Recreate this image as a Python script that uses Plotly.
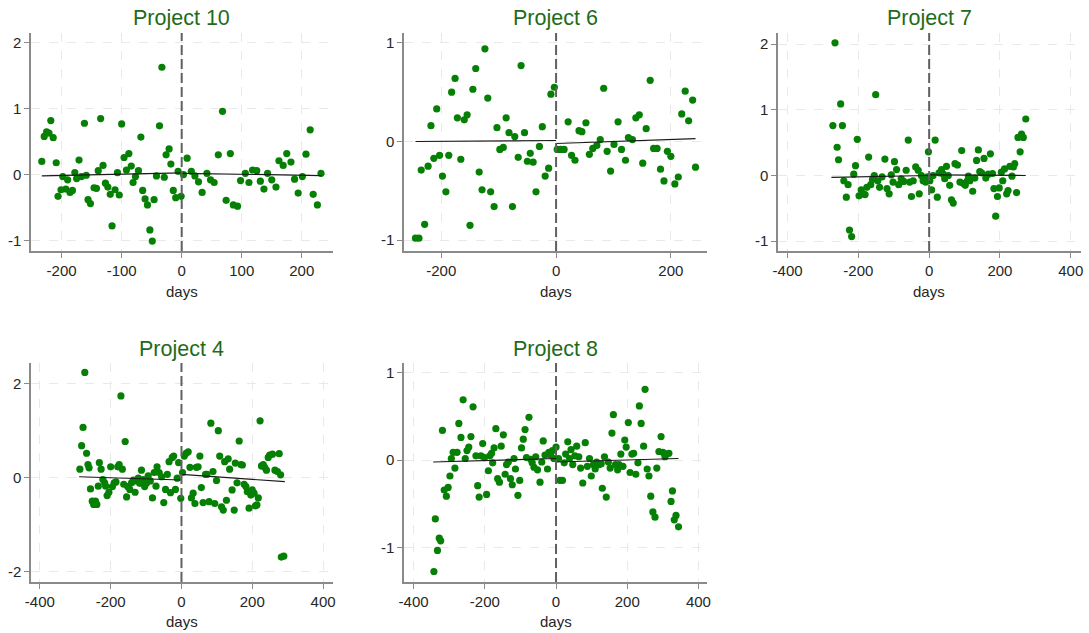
import plotly.graph_objects as go

# ---------------- data ----------------
projects = ["Project 10", "Project 6", "Project 7", "Project 4", "Project 8"]

p10_days = [-233, -229, -225, -221, -218, -214, -209, -206, -201, -198, -193, -190, -186, -182, -178, -175, -171, -167,
            -162, -159, -156, -152, -146, -142, -139, -135, -131, -127, -123, -119, -116, -111, -107, -104, -100, -96,
            -92, -88, -84, -81, -77, -72, -68, -65, -61, -57, -53, -49, -46, -42, -37, -33, -29, -26, -21, -18, -14,
            -10, -6, -1, 3, 9, 16, 22, 28, 34, 42, 48, 54, 61, 68, 74, 81, 86, 93, 98, 106, 112, 118, 125, 131, 137,
            143, 150, 157, 162, 169, 175, 182, 188, 194, 201, 207, 214, 219, 226, 232]
p10_vals = [0.20, 0.58, 0.65, 0.63, 0.82, 0.56, 0.18, -0.33, -0.23, -0.03, -0.22, -0.08, -0.27, -0.24, 0.03, -0.06, 0.22,
            -0.03, 0.78, -0.01, -0.38, -0.44, -0.20, -0.21, 0.06, 0.85, 0.14, -0.13, -0.19, -0.30, -0.78, -0.23, 0.03,
            -0.31, 0.77, 0.26, 0.07, 0.32, 0.13, -0.12, -0.03, 0.06, 0.57, -0.24, -0.37, -0.46, -0.84, -1.01, -0.38,
            -0.02, 0.74, 1.63, -0.04, 0.30, 0.39, 0.16, -0.24, -0.35, 0.05, -0.33, 0.00, 0.25, 0.05, -0.02, -0.11,
            -0.27, 0.02, -0.08, -0.12, 0.30, 0.96, -0.39, 0.32, -0.46, -0.48, -0.09, 0.02, -0.12, 0.07, 0.06, -0.10,
            -0.22, 0.02, -0.08, -0.19, 0.21, 0.14, 0.32, 0.19, -0.07, -0.28, -0.03, 0.31, 0.68, -0.30, -0.46, 0.02]

p6_days = [-245, -239, -235, -229, -223, -218, -213, -208, -203, -198, -192, -187, -182, -176, -172, -166, -160, -155,
           -150, -145, -140, -134, -129, -124, -119, -114, -108, -103, -98, -92, -87, -82, -76, -72, -66, -61, -55, -50,
           -45, -40, -35, -29, -24, -19, -13, -9, -3, 2, 8, 14, 21, 27, 33, 40, 45, 52, 58, 64, 71, 77, 83, 89, 95, 101,
           108, 114, 121, 126, 133, 139, 145, 151, 157, 164, 170, 176, 182, 188, 194, 200, 207, 213, 219, 225, 231,
           238, 243]
p6_vals = [-0.98, -0.98, -0.29, -0.84, -0.25, 0.16, -0.17, 0.33, -0.14, -0.35, -0.51, -0.14, 0.50, 0.64, 0.24, -0.18,
           0.22, 0.27, -0.85, 0.53, 0.74, -0.31, -0.49, 0.94, 0.44, -0.51, -0.66, 0.14, -0.08, -0.06, 0.24, 0.09, -0.66,
           0.05, -0.16, 0.77, 0.09, -0.20, -0.12, -0.21, -0.51, -0.05, 0.15, -0.35, -0.27, 0.48, 0.55, -0.08, -0.08,
           -0.08, 0.20, -0.14, -0.19, 0.11, 0.10, 0.19, -0.13, -0.07, -0.04, 0.02, 0.54, -0.10, -0.30, -0.03, 0.20,
           -0.08, -0.19, 0.04, 0.02, 0.24, 0.27, -0.22, 0.13, 0.62, -0.07, -0.07, -0.28, -0.40, -0.10, -0.15, -0.43,
           -0.36, 0.28, 0.51, 0.21, 0.42, -0.26]

p7_days = [-272, -266, -260, -256, -250, -245, -241, -234, -229, -225, -219, -213, -208, -203, -198, -192, -187, -181,
           -176, -171, -165, -160, -155, -151, -145, -140, -133, -125, -119, -113, -107, -102, -98, -92, -86, -79, -72,
           -65, -59, -55, -50, -45, -38, -31, -28, -22, -17, -10, -5, -2, 2, 7, 11, 17, 23, 28, 35, 40, 44, 49, 54, 58,
           63, 68, 73, 80, 87, 92, 96, 102, 108, 111, 115, 123, 129, 134, 139, 143, 148, 155, 160, 167, 173, 179, 183,
           188, 193, 198, 204, 208, 213, 219, 223, 228, 234, 238, 242, 247, 251, 257, 261, 266, 273]
p7_vals = [0.76, 2.02, 0.43, 0.24, 1.09, 0.76, -0.08, -0.33, -0.14, -0.83, -0.93, 0.02, 0.15, 0.55, -0.31, -0.22, -0.28,
           -0.29, -0.18, 0.28, -0.14, -0.06, 0.00, 1.23, -0.08, -0.18, -0.02, 0.25, -0.20, -0.28, 0.01, -0.10, 0.21,
           0.09, -0.14, -0.05, -0.09, 0.08, 0.54, -0.10, -0.32, -0.08, 0.13, 0.08, -0.28, 0.00, -0.08, -0.10, -0.02,
           0.36, -0.08, -0.22, 0.00, 0.54, -0.33, 0.04, 0.09, 0.02, -0.05, 0.14, 0.00, -0.15, -0.37, -0.42, 0.18, 0.16,
           -0.10, 0.38, -0.12, -0.15, -0.08, -0.01, -0.08, -0.24, -0.04, 0.23, 0.39, 0.06, 0.04, 0.26, -0.04, 0.02,
           0.33, 0.03, -0.20, -0.62, -0.32, -0.19, 0.05, -0.08, 0.10, -0.28, -0.23, 0.14, -0.01, 0.13, 0.18, -0.26,
           0.58, 0.36, 0.63, 0.58, 0.86]

p4_days = [-287, -282, -278, -273, -268, -264, -261, -257, -252, -248, -243, -239, -235, -232, -227, -222, -217, -214,
           -210, -205, -200, -195, -190, -185, -180, -176, -171, -167, -163, -159, -155, -152, -146, -141, -136, -131,
           -127, -122, -118, -113, -108, -104, -99, -94, -88, -82, -77, -72, -69, -63, -56, -50, -45, -40, -35, -31,
           -26, -22, -17, -12, -8, -2, 3, 8, 13, 19, 24, 28, 33, 38, 42, 47, 52, 56, 61, 68, 72, 78, 83, 89, 94, 99,
           104, 108, 113, 118, 122, 127, 132, 136, 143, 149, 152, 157, 163, 168, 172, 177, 182, 186, 191, 196, 200,
           205, 209, 213, 217, 222, 226, 231, 235, 240, 245, 249, 257, 264, 271, 276, 280, 282, 289]
p4_vals = [0.18, 0.68, 1.07, 2.24, 0.52, 0.28, 0.21, -0.24, -0.50, -0.57, -0.50, -0.57, -0.18, 0.32, 0.18, -0.04, -0.11,
           -0.18, -0.38, -0.31, 0.23, -0.19, -0.11, -0.09, 0.23, 0.28, 1.74, 0.18, -0.14, 0.77, -0.41, -0.19, -0.25,
           -0.11, -0.05, -0.31, -0.07, -0.01, -0.12, 0.16, -0.04, -0.19, -0.12, 0.04, -0.07, -0.43, 0.11, -0.18, 0.23,
           0.11, 0.02, -0.53, -0.25, 0.07, 0.34, -0.32, 0.43, 0.46, -0.25, -0.01, 0.32, -0.44, 0.11, 0.46, 0.52, 0.55,
           0.22, -0.43, -0.33, -0.55, 0.22, 0.23, 0.46, -0.21, -0.53, 0.07, 0.07, -0.51, 1.16, 0.13, -0.55, -0.06, 1.00,
           0.46, -0.62, -0.69, 0.34, -0.48, 0.40, 0.18, -0.26, -0.69, 0.31, -0.11, 0.78, 0.28, 0.27, -0.14, -0.19,
           -0.30, -0.65, -0.37, -0.26, -0.33, -0.60, -0.58, -0.43, 1.21, 0.25, 0.28, 0.22, 0.16, 0.43, 0.48, 0.50, 0.16,
           0.13, 0.51, 0.06, -1.69, -1.67]

p8_days = [-343, -339, -333, -328, -324, -319, -314, -308, -303, -298, -294, -289, -284, -278, -273, -267, -261, -255,
           -250, -245, -239, -233, -225, -220, -216, -211, -206, -201, -195, -190, -186, -181, -178, -174, -169, -164,
           -159, -154, -148, -143, -139, -134, -128, -123, -118, -114, -107, -102, -97, -92, -87, -83, -76, -71, -67,
           -62, -57, -52, -45, -40, -36, -31, -24, -20, -15, -10, -6, 0, 7, 11, 18, 23, 27, 33, 38, 42, 47, 53, 58, 64,
           69, 75, 82, 88, 94, 99, 105, 110, 114, 121, 127, 130, 136, 141, 147, 152, 157, 161, 167, 173, 177, 182, 188,
           193, 197, 203, 208, 213, 218, 224, 230, 234, 239, 246, 250, 256, 261, 266, 272, 278, 283, 289, 295, 300,
           306, 311, 317, 323, 327, 332, 337, 344]
p8_vals = [-1.27, -0.67, -1.03, -0.89, -0.92, 0.34, -0.34, -0.41, -0.31, -0.18, 0.02, 0.09, -0.09, 0.09, 0.42, 0.26,
           0.69, 0.02, 0.11, 0.15, 0.27, 0.61, 0.05, -0.29, -0.42, 0.05, 0.19, 0.03, -0.39, -0.12, 0.05, 0.08, -0.03,
           0.14, 0.36, -0.21, -0.25, 0.16, 0.29, -0.16, -0.05, -0.02, -0.21, -0.28, 0.02, -0.10, -0.40, -0.23, 0.14,
           0.24, 0.35, 0.03, 0.49, 0.01, -0.03, -0.08, 0.04, -0.11, -0.25, -0.02, 0.22, 0.06, -0.10, 0.09, 0.06, 0.11,
           0.02, 0.15, 0.02, -0.23, -0.23, -0.03, 0.07, 0.21, 0.02, 0.12, -0.05, 0.05, 0.16, 0.04, -0.09, -0.26, 0.20,
           -0.07, 0.02, -0.18, -0.05, -0.10, -0.02, -0.05, -0.04, -0.32, 0.04, -0.42, -0.02, -0.09, 0.31, 0.52, -0.05,
           -0.11, -0.05, 0.07, -0.07, 0.23, 0.15, 0.43, -0.14, 0.07, 0.08, -0.16, -0.03, 0.62, 0.42, 0.16, 0.81, -0.10,
           -0.18, -0.41, -0.59, -0.65, -0.09, 0.10, 0.27, 0.09, 0.04, 0.07, 0.08, -0.47, -0.35, -0.68, -0.63, -0.76]

# fitted line segments (left of cutoff, right of cutoff)
fit_left_x = [[-233, 0], [-245, 0], [-276, 0], [-289, 0], [-345, 0]]
fit_left_y = [[-0.02, 0.025], [0.00, 0.01], [-0.03, 0.00], [0.02, -0.05], [-0.02, 0.02]]
fit_right_x = [[0, 233], [0, 243], [0, 273], [0, 292], [0, 344]]
fit_right_y = [[0.02, -0.015], [-0.02, 0.03], [0.01, 0.00], [0.07, -0.085], [-0.02, 0.02]]

x_ranges = [[-251, 252], [-265, 263], [-427, 429], [-425, 428], [-427, 424]]
y_ranges = [[-1.16, 2.15], [-1.11, 1.10], [-1.15, 2.17], [-2.22, 2.44], [-1.39, 1.11]]
x_ticks = [[-200, -100, 0, 100, 200], [-200, 0, 200], [-400, -200, 0, 200, 400],
           [-400, -200, 0, 200, 400], [-400, -200, 0, 200, 400]]
y_ticks = [[-1, 0, 1, 2], [-1, 0, 1], [-1, 0, 1, 2], [-2, 0, 2], [-1, 0, 1]]

all_days = [p10_days, p6_days, p7_days, p4_days, p8_days]
all_vals = [p10_vals, p6_vals, p7_vals, p4_vals, p8_vals]

# ---------------- layout ----------------
W, H = 1089, 633
col_px = [(31, 333), (404, 707), (778, 1081)]
row_px = [(33, 251), (363, 582)]
panel_pos = [(0, 0), (0, 1), (0, 2), (1, 0), (1, 1)]

MARKER = "#058005"
TITLE_C = "#1f6b1a"
AXIS_C = "#8a8a8a"
GRID_C = "#e9e9e9"
TEXT_C = "#262626"
FONT = "Liberation Sans, Arial, sans-serif"


def tick_text(vals):
    # the reference uses a plain hyphen for negative numbers
    return [str(v) for v in vals]


fig = go.Figure()
annotations = []
shapes = []
layout_axes = {}

for i in range(5):
    r, c = panel_pos[i]
    sx = "" if i == 0 else str(i + 1)
    xa, ya = "x" + sx, "y" + sx
    x0, x1 = col_px[c]
    y0, y1 = row_px[r]
    xdom = [x0 / W, x1 / W]
    ydom = [1 - y1 / H, 1 - y0 / H]

    fig.add_trace(go.Scatter(x=all_days[i], y=all_vals[i], mode="markers",
                             marker=dict(color=MARKER, size=7.2, line=dict(width=0)),
                             xaxis=xa, yaxis=ya, showlegend=False, hoverinfo="x+y"))
    fig.add_trace(go.Scatter(x=fit_left_x[i], y=fit_left_y[i], mode="lines",
                             line=dict(color="#1a1a1a", width=1.2),
                             xaxis=xa, yaxis=ya, showlegend=False))
    fig.add_trace(go.Scatter(x=fit_right_x[i], y=fit_right_y[i], mode="lines",
                             line=dict(color="#1a1a1a", width=1.2),
                             xaxis=xa, yaxis=ya, showlegend=False))

    common = dict(showline=True, linecolor=AXIS_C, linewidth=1.5, ticks="outside", ticklen=5,
                  tickcolor=AXIS_C, tickwidth=1.2, showgrid=True, gridcolor=GRID_C, gridwidth=1.2,
                  griddash="dash", zeroline=False, automargin=False,
                  tickfont=dict(family=FONT, size=15, color=TEXT_C), fixedrange=True)
    layout_axes["xaxis" + sx] = dict(domain=xdom, anchor=ya, range=x_ranges[i],
                                     tickmode="array", tickvals=x_ticks[i], ticktext=tick_text(x_ticks[i]),
                                     **common)
    layout_axes["yaxis" + sx] = dict(domain=ydom, anchor=xa, range=y_ranges[i],
                                     tickmode="array", tickvals=y_ticks[i], ticktext=tick_text(y_ticks[i]),
                                     **common)

    # cutoff line at day 0
    shapes.append(dict(type="line", xref=xa, yref=ya + " domain", x0=0, x1=0, y0=0, y1=1,
                       line=dict(color="#606060", width=2, dash="10px,4px"), layer="above"))

    cx = (x0 + x1) / 2 / W
    annotations.append(dict(text=projects[i], x=cx, y=1 - (18 if r == 0 else 349) / H,
                            xref="paper", yref="paper", showarrow=False, xanchor="center", yanchor="middle",
                            font=dict(family=FONT, size=21.5, color=TITLE_C)))
    annotations.append(dict(text="days", x=cx, y=1 - (291 if r == 0 else 621) / H,
                            xref="paper", yref="paper", showarrow=False, xanchor="center", yanchor="middle",
                            font=dict(family=FONT, size=15, color=TEXT_C)))

fig.update_layout(width=W, height=H, margin=dict(l=0, r=0, t=0, b=0),
                  paper_bgcolor="white", plot_bgcolor="white",
                  annotations=annotations, shapes=shapes, **layout_axes)

fig.write_html("out.html")
